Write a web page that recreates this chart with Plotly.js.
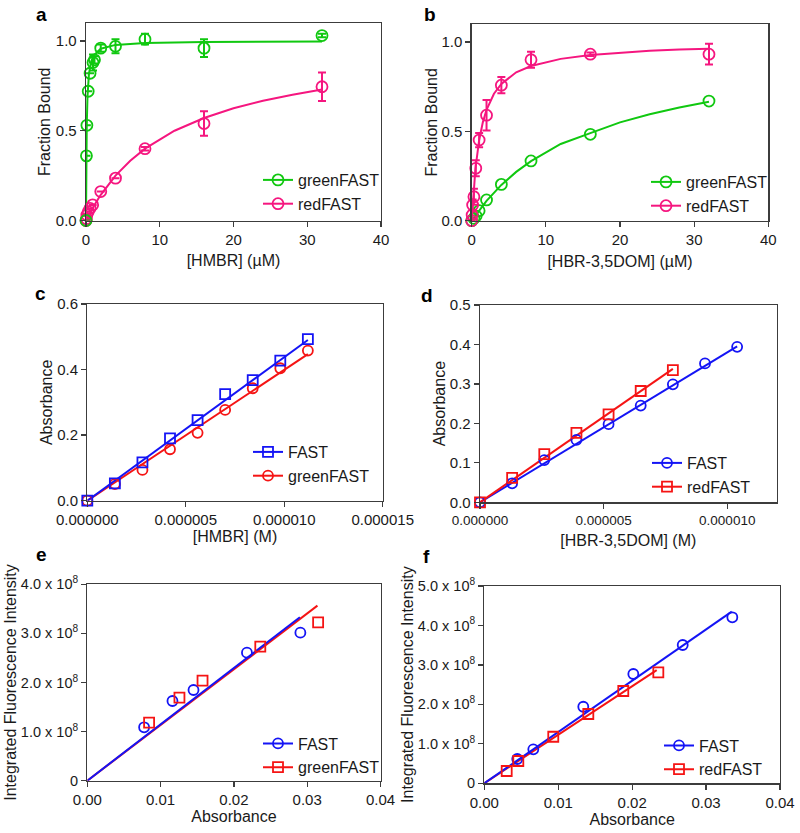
<!DOCTYPE html>
<html>
<head>
<meta charset="utf-8">
<script src="https://cdn.plot.ly/plotly-3.0.1.min.js"></script>
<style>html,body{margin:0;padding:0;background:#fff}#chart{width:800px;height:833px}</style>
</head>
<body>
<div id="chart"></div>
<script>
// ---------- Panel a : [HMBR] (µM) vs Fraction Bound ----------
const aGreenX = [0, 0.06, 0.12, 0.3, 0.55, 0.95, 1.15, 2, 4, 8, 16, 32];
const aGreenY = [0, 0.36, 0.53, 0.72, 0.82, 0.88, 0.895, 0.96, 0.97, 1.01, 0.96, 1.03];
const aGreenErr = [0, 0, 0, 0, 0, 0.045, 0.02, 0.02, 0.039, 0.03, 0.05, 0.01];
const aRedX = [0, 0.06, 0.12, 0.3, 0.55, 0.9, 2, 4, 8, 16, 32];
const aRedY = [0, 0.01, 0.03, 0.049, 0.068, 0.087, 0.161, 0.236, 0.40, 0.54, 0.745];
const aRedErr = [0, 0, 0, 0, 0, 0, 0, 0, 0.01, 0.068, 0.079];
const aGreenFitX = [0, 0.02, 0.05, 0.1, 0.2, 0.4, 0.7, 1, 2, 4, 8, 16, 32];
const aGreenFitY = [0, 0.18, 0.357, 0.526, 0.69, 0.816, 0.886, 0.917, 0.957, 0.978, 0.989, 0.994, 0.997];
const aRedFitX = [0, 1, 2, 4, 6, 8, 12, 16, 20, 24, 28, 32];
const aRedFitY = [0, 0.077, 0.143, 0.25, 0.333, 0.40, 0.50, 0.571, 0.625, 0.667, 0.70, 0.73];

// ---------- Panel b : [HBR-3,5DOM] (µM) vs Fraction Bound ----------
const bGreenX = [0, 0.3, 0.6, 1, 2, 4, 8, 16, 32];
const bGreenY = [0, 0.013, 0.026, 0.056, 0.116, 0.203, 0.334, 0.483, 0.669];
const bRedX = [0, 0.06, 0.125, 0.3, 0.55, 1, 2, 4, 8, 16, 32];
const bRedY = [0, 0.032, 0.088, 0.134, 0.293, 0.451, 0.59, 0.758, 0.90, 0.931, 0.931];
const bRedErr = [0, 0.02, 0.03, 0.045, 0.045, 0.04, 0.085, 0.045, 0.045, 0.01, 0.058];
const bGreenFitX = [0, 1, 2, 4, 6, 8, 12, 16, 20, 24, 28, 32];
const bGreenFitY = [0, 0.059, 0.111, 0.20, 0.273, 0.333, 0.429, 0.49, 0.55, 0.595, 0.633, 0.665];
const bRedFitX = [0, 0.25, 0.5, 1, 1.5, 2, 3, 4, 6, 8, 12, 16, 20, 24, 28, 32];
const bRedFitY = [0, 0.16, 0.29, 0.45, 0.55, 0.62, 0.71, 0.765, 0.83, 0.865, 0.905, 0.927, 0.94, 0.95, 0.957, 0.962];

// ---------- Panel c : [HMBR] (M) vs Absorbance ----------
const cX = [0, 1.4e-6, 2.8e-6, 4.2e-6, 5.6e-6, 7.0e-6, 8.4e-6, 9.8e-6, 11.2e-6];
const cFastY = [0, 0.053, 0.117, 0.19, 0.246, 0.325, 0.368, 0.427, 0.493];
const cGreenY = [0, 0.051, 0.094, 0.157, 0.207, 0.277, 0.343, 0.404, 0.458];
const cFitX = [0, 11.2e-6];
const cFastFitY = [0, 0.49];
const cGreenFitY = [0, 0.447];

// ---------- Panel d : [HBR-3,5DOM] (M) vs Absorbance ----------
const dFastX = [0, 1.3e-6, 2.6e-6, 3.9e-6, 5.2e-6, 6.5e-6, 7.8e-6, 9.1e-6, 10.4e-6];
const dFastY = [0, 0.048, 0.107, 0.158, 0.198, 0.245, 0.299, 0.352, 0.394];
const dRedX = [0, 1.3e-6, 2.6e-6, 3.9e-6, 5.2e-6, 6.5e-6, 7.8e-6];
const dRedY = [0, 0.062, 0.122, 0.176, 0.223, 0.282, 0.335];
const dFastFitX = [0, 10.4e-6];
const dFastFitY = [0, 0.395];
const dRedFitX = [0, 7.8e-6];
const dRedFitY = [0, 0.338];

// ---------- Panel e : Absorbance vs Integrated Fluorescence Intensity ----------
const eFastX = [0.00775, 0.01162, 0.01449, 0.02178, 0.02907];
const eFastY = [1.088e8, 1.623e8, 1.847e8, 2.607e8, 3.015e8];
const eGreenX = [0.00843, 0.01257, 0.01572, 0.0236, 0.03149];
const eGreenY = [1.181e8, 1.69e8, 2.037e8, 2.73e8, 3.226e8];
const eFastFitX = [0, 0.029];
const eFastFitY = [0, 3.33e8];
const eGreenFitX = [0, 0.0314];
const eGreenFitY = [0, 3.565e8];

// ---------- Panel f : Absorbance vs Integrated Fluorescence Intensity ----------
const fFastX = [0.00446, 0.00663, 0.01339, 0.02016, 0.02684, 0.03355];
const fFastY = [6.16e7, 8.6e7, 1.94e8, 2.77e8, 3.505e8, 4.207e8];
const fRedX = [0.00303, 0.0046, 0.00933, 0.01407, 0.0188, 0.02354];
const fRedY = [3.12e7, 5.65e7, 1.18e8, 1.756e8, 2.339e8, 2.813e8];
const fFastFitX = [0, 0.03347];
const fFastFitY = [0, 4.35e8];
const fRedFitX = [0, 0.02332];
const fRedFitY = [0, 2.87e8];

// ---------- tick labels / text ----------
const fracTicks = [0, 0.5, 1.0];
const fracTickText = ['0.0', '0.5', '1.0'];
const uMTicks = [0, 10, 20, 30, 40];
const cXTicks = [0, 5e-6, 1e-5, 1.5e-5];
const cXTickText = ['0.000000', '0.000005', '0.000010', '0.000015'];
const dXTicks = [0, 5e-6, 1e-5];
const dXTickText = ['0.000000', '0.000005', '0.000010'];
const absTicks = [0, 0.01, 0.02, 0.03, 0.04];
const absTickText = ['0.00', '0.01', '0.02', '0.03', '0.04'];
const eYTicks = [0, 1e8, 2e8, 3e8, 4e8];
const eYTickText = ['0', '1.0 x 10<sup>8</sup>', '2.0 x 10<sup>8</sup>', '3.0 x 10<sup>8</sup>', '4.0 x 10<sup>8</sup>'];
const fYTicks = [0, 1e8, 2e8, 3e8, 4e8, 5e8];
const fYTickText = ['0', '1.0 x 10<sup>8</sup>', '2.0 x 10<sup>8</sup>', '3.0 x 10<sup>8</sup>', '4.0 x 10<sup>8</sup>', '5.0 x 10<sup>8</sup>'];
const panelLetters = ['a', 'b', 'c', 'd', 'e', 'f'];

// ---------- styles ----------
const GREEN = '#10c810', PINK = '#f5167f', BLUE = '#1414f5', RED = '#f51414';
const FONT = 'Liberation Sans, Arial, sans-serif';

function pts(x, y, color, symbol, size, ax, err) {
  const t = {x, y, type: 'scatter', mode: 'markers', xaxis: ax[0], yaxis: ax[1], showlegend: false,
    cliponaxis: false, marker: {symbol, size, color, line: {width: 1.8, color}}};
  if (err) t.error_y = {type: 'data', array: err, visible: true, color, thickness: 2, width: 4};
  return t;
}
function fit(x, y, color, ax) {
  return {x, y, type: 'scatter', mode: 'lines', xaxis: ax[0], yaxis: ax[1], showlegend: false,
    line: {color, width: 2}};
}
function leg(name, color, symbol, size, ax, lg) {
  return {x: [null], y: [null], type: 'scatter', mode: 'lines+markers', name, xaxis: ax[0], yaxis: ax[1],
    legend: lg, line: {color, width: 2}, marker: {symbol, size, color, line: {width: 1.8, color}}};
}

const A = ['x', 'y'], B = ['x2', 'y2'], C = ['x3', 'y3'], D = ['x4', 'y4'], E = ['x5', 'y5'], F = ['x6', 'y6'];
const traces = [
  fit(aRedFitX, aRedFitY, PINK, A), fit(aGreenFitX, aGreenFitY, GREEN, A),
  pts(aRedX, aRedY, PINK, 'circle-open', 11, A, aRedErr), pts(aGreenX, aGreenY, GREEN, 'circle-open', 11, A, aGreenErr),
  leg('greenFAST', GREEN, 'circle-open', 11, A, 'legend'), leg('redFAST', PINK, 'circle-open', 11, A, 'legend'),

  fit(bGreenFitX, bGreenFitY, GREEN, B), fit(bRedFitX, bRedFitY, PINK, B),
  pts(bGreenX, bGreenY, GREEN, 'circle-open', 11, B), pts(bRedX, bRedY, PINK, 'circle-open', 11, B, bRedErr),
  leg('greenFAST', GREEN, 'circle-open', 11, B, 'legend2'), leg('redFAST', PINK, 'circle-open', 11, B, 'legend2'),

  fit(cFitX, cGreenFitY, RED, C), fit(cFitX, cFastFitY, BLUE, C),
  pts(cX, cGreenY, RED, 'circle-open', 10, C), pts(cX, cFastY, BLUE, 'square-open', 10, C),
  leg('FAST', BLUE, 'square-open', 10, C, 'legend3'), leg('greenFAST', RED, 'circle-open', 10, C, 'legend3'),

  fit(dFastFitX, dFastFitY, BLUE, D), fit(dRedFitX, dRedFitY, RED, D),
  pts(dFastX, dFastY, BLUE, 'circle-open', 10, D), pts(dRedX, dRedY, RED, 'square-open', 10, D),
  leg('FAST', BLUE, 'circle-open', 10, D, 'legend4'), leg('redFAST', RED, 'square-open', 10, D, 'legend4'),

  fit(eGreenFitX, eGreenFitY, RED, E), fit(eFastFitX, eFastFitY, BLUE, E),
  pts(eFastX, eFastY, BLUE, 'circle-open', 10, E), pts(eGreenX, eGreenY, RED, 'square-open', 10, E),
  leg('FAST', BLUE, 'circle-open', 10, E, 'legend5'), leg('greenFAST', RED, 'square-open', 10, E, 'legend5'),

  fit(fRedFitX, fRedFitY, RED, F), fit(fFastFitX, fFastFitY, BLUE, F),
  pts(fFastX, fFastY, BLUE, 'circle-open', 10, F), pts(fRedX, fRedY, RED, 'square-open', 10, F),
  leg('FAST', BLUE, 'circle-open', 10, F, 'legend6'), leg('redFAST', RED, 'square-open', 10, F, 'legend6')
];

const W = 800, H = 833;
const px = (a, b) => [a / W, b / W];
const py = (top, bottom) => [1 - bottom / H, 1 - top / H];

function axis(domain, range, title, standoff, extra) {
  return Object.assign({
    domain, range, showline: true, mirror: true, linecolor: '#3c3c3c', linewidth: 1.3,
    ticks: 'outside', ticklen: 5, tickwidth: 1.3, tickcolor: '#3c3c3c',
    showgrid: false, zeroline: false, fixedrange: true,
    tickfont: {family: FONT, size: 15, color: '#1a1a1a'},
    title: {text: title, font: {family: FONT, size: 16, color: '#1a1a1a'}, standoff: standoff}
  }, extra || {});
}
function legend(xp, ytop) {
  return {x: xp / W, y: 1 - ytop / H, xanchor: 'left', yanchor: 'top', bgcolor: 'rgba(0,0,0,0)',
    font: {family: FONT, size: 16, color: '#1a1a1a'}, itemwidth: 30, tracegroupgap: 0};
}
const smallTick = {family: FONT, size: 14.5, color: '#1a1a1a'};

const layout = {
  width: W, height: H, margin: {l: 0, r: 0, t: 0, b: 0},
  paper_bgcolor: '#fff', plot_bgcolor: '#fff', font: {family: FONT},
  showlegend: true,
  xaxis: axis(px(86, 381), [0, 40], '[HMBR] (µM)', 8, {anchor: 'y', tickvals: uMTicks}),
  yaxis: axis(py(23, 220.5), [0, 1.1], 'Fraction Bound', 1, {anchor: 'x', tickvals: fracTicks, ticktext: fracTickText}),
  xaxis2: axis(px(471.7, 768.3), [0, 40], '[HBR-3,5DOM] (µM)', 8, {anchor: 'y2', tickvals: uMTicks}),
  yaxis2: axis(py(24, 220.7), [0, 1.1], 'Fraction Bound', 0, {anchor: 'x2', tickvals: fracTicks, ticktext: fracTickText}),
  xaxis3: axis(px(87.3, 382.7), [0, 1.5e-5], '[HMBR] (M)', 3, {anchor: 'y3', tickvals: cXTicks, ticktext: cXTickText}),
  yaxis3: axis(py(304, 500.7), [0, 0.6], 'Absorbance', 0, {anchor: 'x3', dtick: 0.2, tickformat: '.1f'}),
  xaxis4: axis(px(480, 776.7), [0, 1.2e-5], '[HBR-3,5DOM] (M)', 8, {anchor: 'y4', tickvals: dXTicks, ticktext: dXTickText,
    tickfont: {family: FONT, size: 13.5, color: '#1a1a1a'}}),
  yaxis4: axis(py(305, 502.3), [0, 0.5], 'Absorbance', 0, {anchor: 'x4', dtick: 0.1, tickformat: '.1f'}),
  xaxis5: axis(px(87.3, 380.5), [0, 0.04], 'Absorbance', 0, {anchor: 'y5', tickvals: absTicks, ticktext: absTickText}),
  yaxis5: axis(py(584.3, 780.7), [0, 4e8], 'Integrated Fluorescence Intensity', 0, {anchor: 'x5', tickvals: eYTicks, ticktext: eYTickText,
    tickfont: smallTick}),
  xaxis6: axis(px(484.3, 780), [0, 0.04], 'Absorbance', 0, {anchor: 'y6', tickvals: absTicks, ticktext: absTickText}),
  yaxis6: axis(py(586, 783.3), [0, 5e8], 'Integrated Fluorescence Intensity', 0, {anchor: 'x6', tickvals: fYTicks, ticktext: fYTickText,
    tickfont: smallTick}),
  legend: legend(258, 163),
  legend2: legend(646, 165),
  legend3: legend(248, 435),
  legend4: legend(647, 446),
  legend5: legend(258, 726.5),
  legend6: legend(659, 728.5),
  annotations: [[41, 14], [430, 14], [40, 293], [427, 295], [41, 554], [426, 556]].map((p, i) => ({
    text: '<b>' + panelLetters[i] + '</b>', xref: 'paper', yref: 'paper', x: p[0] / W, y: 1 - p[1] / H,
    xanchor: 'center', yanchor: 'middle', showarrow: false, font: {family: FONT, size: 19, color: '#000'}
  }))
};

Plotly.newPlot('chart', traces, layout, {displayModeBar: false, staticPlot: true});
</script>
</body>
</html>
